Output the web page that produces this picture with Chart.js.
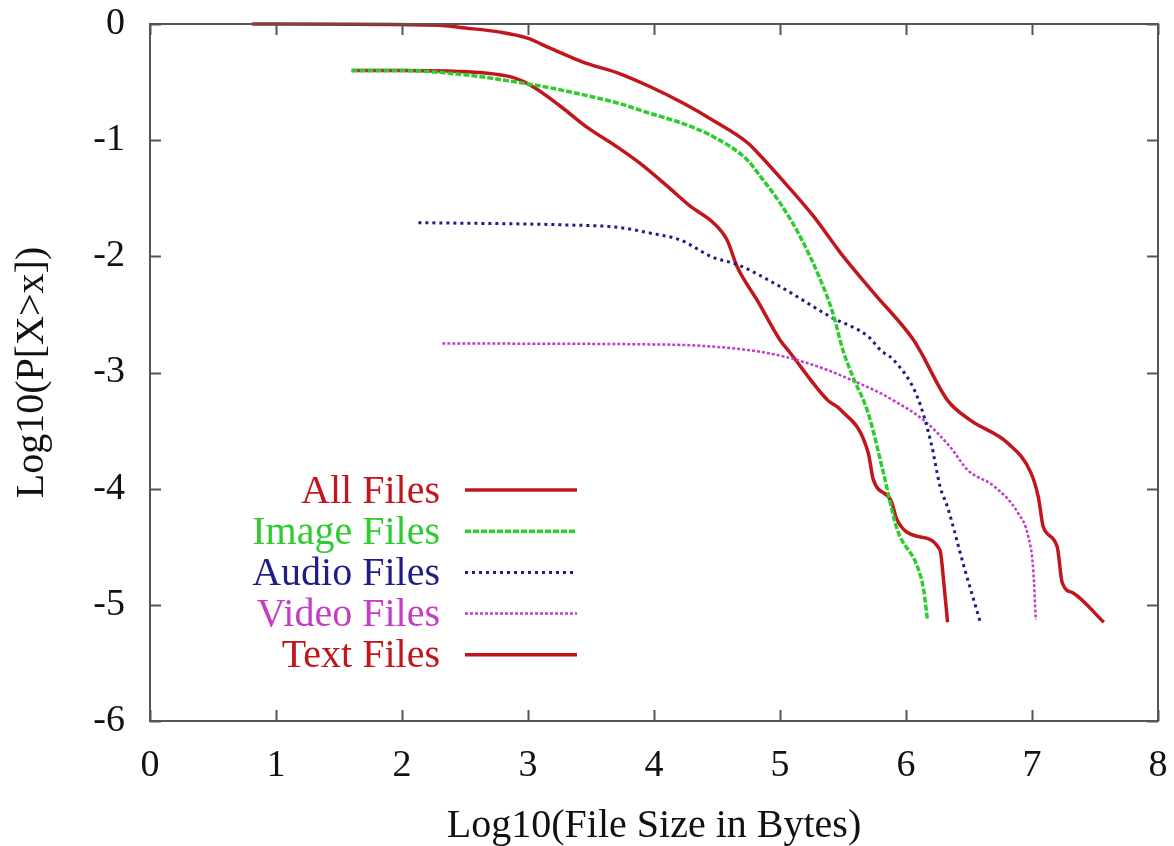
<!DOCTYPE html>
<html>
<head>
<meta charset="utf-8">
<title>File size distribution</title>
<script src="https://cdn.jsdelivr.net/npm/chart.js@4.4.1/dist/chart.umd.min.js"></script>
<style>
  html, body { margin: 0; padding: 0; background: #fff; }
  #wrap { width: 1174px; height: 846px; }
</style>
</head>
<body>
<div id="wrap"><canvas id="cdf" width="1174" height="846"></canvas></div>
<script>
// complementary CDF per file type: [log10(size), log10(P[X>x])]
const allFiles = [
  [0.81, 0], [2.30, -0.01], [2.46, -0.03], [2.78, -0.07], [2.99, -0.12],
  [3.18, -0.21], [3.44, -0.33], [3.71, -0.42], [3.97, -0.54], [4.23, -0.68],
  [4.47, -0.83], [4.74, -1.02], [4.85, -1.14], [5.00, -1.32], [5.27, -1.66],
  [5.48, -1.97], [5.74, -2.31], [6.06, -2.72], [6.11, -2.81], [6.33, -3.24],
  [6.51, -3.41], [6.81, -3.61], [6.99, -3.86], [7.05, -4.07], [7.09, -4.33],
  [7.20, -4.50], [7.24, -4.81], [7.33, -4.90], [7.57, -5.15]
];
const imageFiles = [
  [1.60, -0.40], [1.99, -0.40], [2.52, -0.44], [2.91, -0.50], [3.18, -0.55],
  [3.44, -0.61], [3.71, -0.68], [3.97, -0.77], [4.21, -0.85], [4.47, -0.97],
  [4.74, -1.17], [4.85, -1.32], [5.00, -1.54], [5.16, -1.83], [5.32, -2.20],
  [5.42, -2.49], [5.50, -2.81], [5.58, -3.04], [5.70, -3.35], [5.82, -3.86],
  [5.93, -4.35], [6.09, -4.67], [6.14, -4.87], [6.17, -5.13]
];
const audioFiles = [
  [2.13, -1.71], [3.31, -1.73], [3.71, -1.75], [3.97, -1.80], [4.21, -1.86],
  [4.47, -2.01], [4.66, -2.07], [5.00, -2.26], [5.40, -2.52], [5.70, -2.69],
  [5.80, -2.81], [5.90, -2.89], [6.09, -3.21], [6.20, -3.61], [6.27, -3.98],
  [6.33, -4.16], [6.46, -4.67], [6.59, -5.15]
];
const videoFiles = [
  [2.32, -2.75], [4.11, -2.76], [4.37, -2.77], [4.77, -2.81], [5.06, -2.87],
  [5.38, -2.98], [5.62, -3.09], [5.80, -3.18], [5.90, -3.24], [6.14, -3.41],
  [6.35, -3.64], [6.49, -3.84], [6.70, -3.98], [6.89, -4.21], [6.97, -4.41],
  [7.01, -4.70], [7.03, -5.13]
];
const textFiles = [
  [1.60, -0.40], [1.99, -0.40], [2.64, -0.42], [2.88, -0.46], [3.04, -0.54],
  [3.26, -0.71], [3.47, -0.89], [3.71, -1.06], [3.89, -1.20], [4.11, -1.40],
  [4.29, -1.57], [4.47, -1.71], [4.58, -1.86], [4.66, -2.09], [4.82, -2.38],
  [5.00, -2.72], [5.08, -2.83], [5.38, -3.24], [5.48, -3.32], [5.70, -3.69],
  [5.74, -3.92], [5.88, -4.10], [5.93, -4.27], [6.09, -4.41], [6.27, -4.53],
  [6.30, -4.81], [6.33, -5.15]
];

const seriesNames = ['All Files', 'Image Files', 'Audio Files', 'Video Files', 'Text Files'];
const seriesData = [allFiles, imageFiles, audioFiles, videoFiles, textFiles];
const seriesColors = ['#c0161c', '#2fcc2f', '#1e1e88', '#c23ec2', '#c0161c'];
const seriesDash = [[], [6, 2], [3, 4], [3, 2], []];
const seriesWidth = [3.5, 3.5, 3, 2.5, 3.5];

const xTicks = [0, 1, 2, 3, 4, 5, 6, 7, 8];
const yTicks = [0, -1, -2, -3, -4, -5, -6];

const FONT = '"Liberation Serif", "Times New Roman", serif';

// gnuplot-like frame with inward ticks on all four sides, plus the key
const framePlugin = {
  id: 'frame',
  afterDatasetsDraw(chart) {
    const { ctx, chartArea: a, scales: { x, y } } = chart;
    const tl = 11;
    ctx.save();
    ctx.strokeStyle = '#555';
    ctx.lineWidth = 2;
    ctx.strokeRect(a.left, a.top, a.right - a.left, a.bottom - a.top);
    ctx.beginPath();
    xTicks.forEach(v => {
      const px = Math.round(x.getPixelForValue(v)) + 0.5;
      ctx.moveTo(px, a.bottom); ctx.lineTo(px, a.bottom - tl);
      ctx.moveTo(px, a.top); ctx.lineTo(px, a.top + tl);
    });
    yTicks.forEach(v => {
      const py = Math.round(y.getPixelForValue(v)) + 0.5;
      ctx.moveTo(a.left, py); ctx.lineTo(a.left + tl, py);
      ctx.moveTo(a.right, py); ctx.lineTo(a.right - tl, py);
    });
    ctx.stroke();

    // key
    ctx.font = '40px ' + FONT;
    ctx.textAlign = 'right';
    ctx.textBaseline = 'middle';
    const textRight = a.left + 290;
    const lineL = a.left + 315;
    const lineR = a.left + 427;
    const rowTop = a.top + 466;
    const rowH = 41.2;
    seriesNames.forEach((name, i) => {
      const cy = rowTop + i * rowH;
      ctx.fillStyle = seriesColors[i];
      ctx.fillText(name, textRight, cy + 2);
      ctx.beginPath();
      ctx.setLineDash(seriesDash[i]);
      ctx.strokeStyle = seriesColors[i];
      ctx.lineWidth = seriesWidth[i];
      ctx.moveTo(lineL, cy);
      ctx.lineTo(lineR, cy);
      ctx.stroke();
    });
    ctx.restore();
  }
};

new Chart(document.getElementById('cdf'), {
  type: 'scatter',
  data: {
    datasets: seriesData.map((pts, i) => ({
      label: seriesNames[i],
      data: pts.map(p => ({ x: p[0], y: p[1] })),
      showLine: true,
      borderColor: seriesColors[i],
      backgroundColor: seriesColors[i],
      borderWidth: seriesWidth[i],
      borderDash: seriesDash[i],
      pointRadius: 0,
      cubicInterpolationMode: 'monotone',
      clip: 4
    }))
  },
  options: {
    responsive: false,
    animation: false,
    layout: { padding: { top: 24, right: 16, left: 0, bottom: 0 } },
    plugins: { legend: { display: false }, tooltip: { enabled: false } },
    scales: {
      x: {
        type: 'linear',
        min: 0,
        max: 8,
        afterBuildTicks: s => { s.ticks = xTicks.map(v => ({ value: v })); },
        afterFit: s => { s.height = 125; s.paddingLeft = 0; s.paddingRight = 0; },
        grid: { display: false, drawTicks: false },
        border: { display: false },
        ticks: { color: '#111', font: { family: FONT, size: 38 }, padding: 22, maxRotation: 0 },
        title: {
          display: true,
          text: 'Log10(File Size in Bytes)',
          color: '#111',
          font: { family: FONT, size: 40 },
          padding: { top: 0, bottom: -4 }
        }
      },
      y: {
        type: 'linear',
        min: -6,
        max: 0,
        afterBuildTicks: s => { s.ticks = yTicks.map(v => ({ value: v })); },
        afterFit: s => { s.width = 150; s.paddingTop = 0; s.paddingBottom = 0; },
        grid: { display: false, drawTicks: false },
        border: { display: false },
        ticks: { color: '#111', font: { family: FONT, size: 38 }, padding: 25 },
        title: {
          display: true,
          text: 'Log10(P[X>x])',
          color: '#111',
          font: { family: FONT, size: 40 },
          padding: { top: 8, bottom: 0 }
        }
      }
    }
  },
  plugins: [framePlugin]
});
</script>
</body>
</html>
